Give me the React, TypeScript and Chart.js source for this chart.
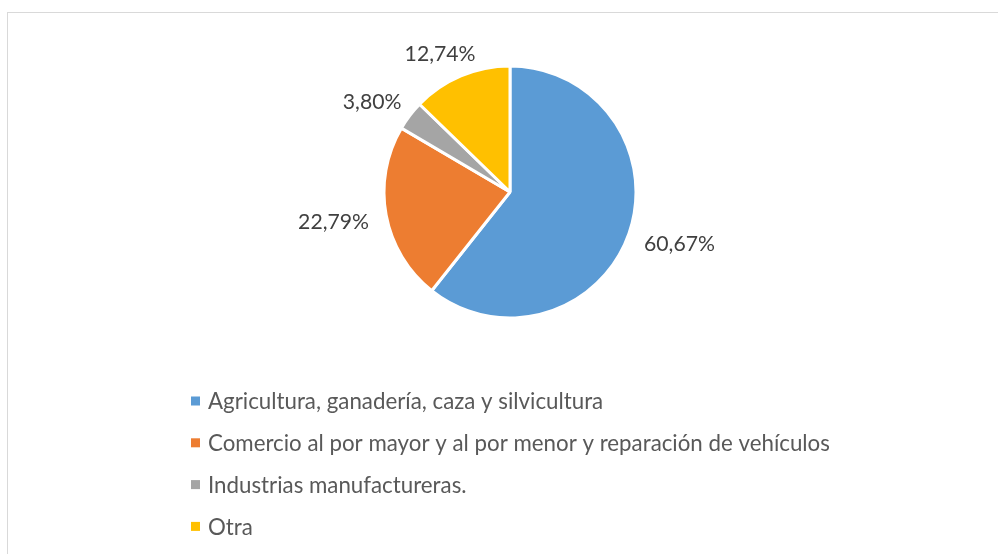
import React, { useEffect, useRef } from "react";
import { Chart, registerables } from "chart.js";

Chart.register(...registerables);

const categories = [
  "Agricultura, ganadería, caza y silvicultura",
  "Comercio al por mayor y al por menor y reparación de vehículos",
  "Industrias manufactureras.",
  "Otra",
];
const shares = [60.67, 22.79, 3.8, 12.74];
const colors = ["#5B9BD5", "#ED7D31", "#A5A5A5", "#FFC000"];

const FONT = "Lato, 'Noto Sans', sans-serif";
const LABEL_SIZE = 21.2;
const LEGEND_SIZE = 22.3;

const fmt = (v: number) => v.toFixed(2).replace(".", ",") + "%";

const labelPlugin = {
  id: "outsideLabels",
  afterDatasetsDraw(chart: any) {
    const ctx = chart.ctx;
    const meta = chart.getDatasetMeta(0);
    ctx.save();
    ctx.font = `${LABEL_SIZE}px ${FONT}`;
    ctx.fillStyle = "#404040";
    ctx.textAlign = "center";
    ctx.textBaseline = "middle";
    meta.data.forEach((arc: any, i: number) => {
      const { x, y, startAngle, endAngle, outerRadius } = arc.getProps(
        ["x", "y", "startAngle", "endAngle", "outerRadius"],
        true
      );
      const mid = (startAngle + endAngle) / 2;
      const dx = Math.cos(mid);
      const dy = Math.sin(mid);
      const text = fmt(shares[i]);
      const w = ctx.measureText(text).width;
      const h = LABEL_SIZE * 0.75;
      const d = outerRadius + 18;
      ctx.fillText(text, x + d * dx + (w / 2) * dx, y + d * dy + (h / 2) * dy + 2);
    });
    ctx.restore();
  },
};

const legendPlugin = {
  id: "listLegend",
  afterDraw(chart: any) {
    const ctx = chart.ctx;
    const meta = chart.getDatasetMeta(0);
    const left = 191;
    const top = 401;
    const step = 41.8;
    const box = 9;
    ctx.save();
    ctx.font = `${LEGEND_SIZE}px ${FONT}`;
    ctx.textBaseline = "middle";
    ctx.textAlign = "left";
    chart.data.labels.forEach((label: string, i: number) => {
      const cy = top + i * step;
      const visible = chart.getDataVisibility(i) && meta.data[i];
      ctx.fillStyle = chart.data.datasets[0].backgroundColor[i];
      if (visible) ctx.fillRect(left, cy - box / 2, box, box);
      ctx.fillStyle = "#595959";
      ctx.fillText(label, left + 17, cy + 1);
    });
    ctx.restore();
  },
};

export default function App() {
  const ref = useRef<HTMLCanvasElement | null>(null);
  useEffect(() => {
    if (!ref.current) return;
    const chart = new Chart(ref.current, {
      type: "pie",
      data: {
        labels: categories,
        datasets: [
          {
            data: shares,
            backgroundColor: colors,
            borderColor: "#ffffff",
            borderWidth: 3,
            hoverOffset: 0,
          },
        ],
      },
      options: {
        responsive: false,
        animation: false,
        devicePixelRatio: 1,
        layout: {
          padding: { top: 64.5, left: 382.5, right: 360.5, bottom: 234.5 },
        },
        plugins: {
          legend: { display: false },
          tooltip: { enabled: false },
        },
      },
      plugins: [labelPlugin, legendPlugin],
    });
    return () => chart.destroy();
  }, []);

  return (
    <div>
      <div
        style={{
          position: "fixed",
          left: 7,
          top: 12,
          width: 1000,
          height: 600,
          borderTop: "1px solid #d9d9d9",
          borderLeft: "1px solid #d9d9d9",
          boxSizing: "border-box",
        }}
      />
      <canvas
        ref={ref}
        width={998}
        height={554}
        style={{ position: "fixed", left: 0, top: 0, width: 998, height: 554 }}
      />
    </div>
  );
}
